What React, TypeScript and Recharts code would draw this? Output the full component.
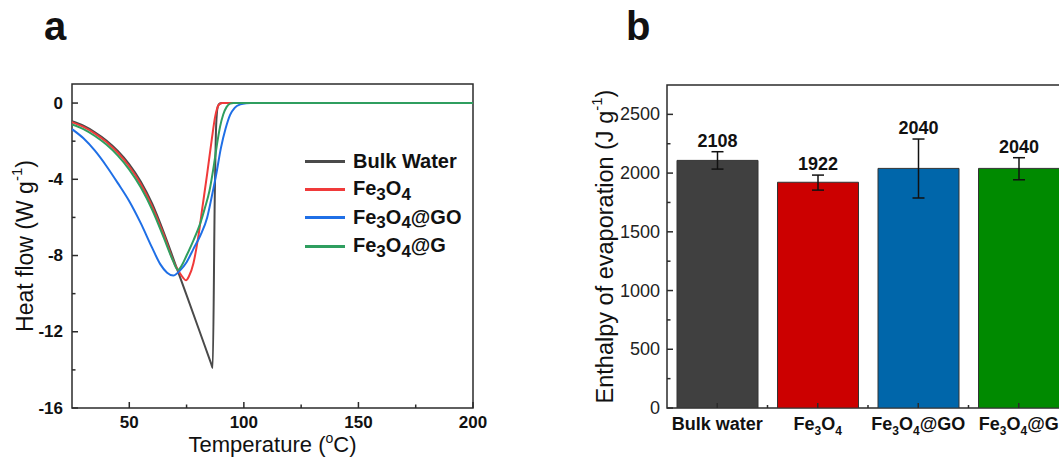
import React from 'react';
import {
  LineChart,
  Line,
  XAxis,
  YAxis,
  Legend,
  ReferenceArea,
  BarChart,
  Bar,
  Cell,
  ErrorBar,
  LabelList,
} from 'recharts';

const FONT = 'Arial, "Liberation Sans", Helvetica, sans-serif';
const INK = '#111';
const AXIS = '#2b2b2b';

// (a) DSC heat flow, temperature in °C and heat flow in W/g
const bulkTemp = [25, 30, 35, 40, 45, 50, 55, 60, 65, 70, 75, 80, 85.8, 86.4, 87.3, 87.9, 88.6, 89.5, 90.5, 200];
const bulkFlow = [-0.95, -1.19, -1.53, -1.96, -2.51, -3.21, -4.11, -5.28, -6.77, -8.42, -10.08, -11.75, -13.7, -13.9, -5.0, -1.2, -0.2, -0.02, 0, 0];

const ironTemp = [25, 30, 35, 40, 45, 50, 55, 60, 65, 70, 72.5, 74.8, 76, 78, 80, 82, 84, 86, 87.5, 89, 90.5, 200];
const ironFlow = [-1.0, -1.25, -1.6, -2.04, -2.61, -3.33, -4.25, -5.43, -6.9, -8.5, -9.0, -9.3, -9.1, -8.4, -7.1, -5.4, -3.7, -1.9, -0.7, -0.1, 0, 0];

const goTemp = [25, 30, 35, 40, 45, 50, 55, 60, 63.5, 66.5, 69.2, 72, 75, 78, 81, 84, 86, 88, 90, 92, 94, 96, 98.5, 101, 103, 200];
const goFlow = [-1.37, -1.85, -2.5, -3.3, -4.2, -5.15, -6.3, -7.6, -8.45, -8.9, -9.05, -8.8, -8.35, -7.65, -6.95, -6.0, -4.9, -3.7, -2.35, -1.35, -0.62, -0.25, -0.07, -0.01, 0, 0];

const gTemp = [25, 30, 35, 40, 45, 50, 55, 60, 65, 69, 71.2, 73, 75, 78, 81, 83, 85, 87, 88.5, 89.6, 91, 92.5, 94, 95.5, 200];
const gFlow = [-1.12, -1.37, -1.73, -2.18, -2.76, -3.49, -4.42, -5.6, -7.05, -8.25, -8.75, -8.5, -8.0, -7.2, -6.3, -5.5, -4.6, -3.2, -2.0, -1.25, -0.6, -0.2, -0.03, 0, 0];

const traceNames = ['Bulk Water', 'Fe3O4', 'Fe3O4@GO', 'Fe3O4@G'];
const traceColors = ['#4a4a4a', '#f03a3a', '#1f6fe6', '#2f9e5f'];

const tempTicks = [50, 75, 100, 125, 150, 175, 200];
const tempLabels = [50, 100, 150, 200];
const flowTicks = [-16, -14, -12, -10, -8, -6, -4, -2, 0];
const flowLabels = [-16, -12, -8, -4, 0];

// (b) enthalpy of evaporation, J/g
const sampleNames = ['Bulk water', 'Fe3O4', 'Fe3O4@GO', 'Fe3O4@G'];
const enthalpy = [2108, 1922, 2040, 2040];
const errLow = [74, 67, 252, 97];
const errHigh = [74, 61, 250, 91];
const barColors = ['#404040', '#cc0000', '#0066aa', '#008a00'];

const enthalpyTicks = [0, 250, 500, 750, 1000, 1250, 1500, 1750, 2000, 2250, 2500];
const enthalpyLabels = [0, 500, 1000, 1500, 2000, 2500];

const traces = [
  { temp: bulkTemp, flow: bulkFlow },
  { temp: ironTemp, flow: ironFlow },
  { temp: goTemp, flow: goFlow },
  { temp: gTemp, flow: gFlow },
].map((s, i) => ({
  name: traceNames[i],
  color: traceColors[i],
  rows: s.temp.map((t, j) => ({ t, hf: s.flow[j] })),
}));

const enthalpyRows = sampleNames.map((name, i) => ({
  name,
  value: enthalpy[i],
  err: [errLow[i], errHigh[i]],
}));

const BAR_W = 540;
const BAR_MARGIN = { top: 85, right: 11, bottom: 0, left: 37 };
const BAR_YAXIS_W = 90;
const band = (BAR_W - BAR_MARGIN.left - BAR_MARGIN.right - BAR_YAXIS_W) / sampleNames.length;

const splitFormula = (s: string) => s.split(/(\d+)/).filter(Boolean);
const isDigits = (s: string) => /^\d+$/.test(s);

// chemical formula inside svg text, digits dropped as subscripts
function svgFormula(text: string, subSize: number, drop: number) {
  let low = false;
  return splitFormula(text).map((part, i) => {
    const num = isDigits(part);
    const dy = num ? (low ? 0 : drop) : low ? -drop : 0;
    low = num;
    return (
      <tspan key={i} dy={dy} fontSize={num ? subSize : undefined}>
        {part}
      </tspan>
    );
  });
}

function HtmlFormula({ text }: { text: string }) {
  return (
    <>
      {splitFormula(text).map((part, i) =>
        isDigits(part) ? (
          <span key={i} style={{ fontSize: '0.85em', position: 'relative', top: '0.28em' }}>
            {part}
          </span>
        ) : (
          <span key={i}>{part}</span>
        ),
      )}
    </>
  );
}

const TempTick = (props: any) => {
  const { x, y, payload } = props;
  const major = tempLabels.includes(payload.value);
  return (
    <g>
      <line x1={x} x2={x} y1={y} y2={y - (major ? 6 : 3.5)} stroke={AXIS} strokeWidth={1.5} />
      {major && (
        <text x={x} y={y + 19.5} textAnchor="middle" fontSize={17} fontWeight="bold" fill={INK} fontFamily={FONT}>
          {payload.value}
        </text>
      )}
    </g>
  );
};

const FlowTick = (props: any) => {
  const { x, y, payload } = props;
  const major = flowLabels.includes(payload.value);
  return (
    <g>
      <line x1={x} x2={x + (major ? 6 : 3.5)} y1={y} y2={y} stroke={AXIS} strokeWidth={1.5} />
      {major && (
        <text x={x - 9} y={y} textAnchor="end" dominantBaseline="central" fontSize={17} fontWeight="bold" fill={INK} fontFamily={FONT}>
          {payload.value}
        </text>
      )}
    </g>
  );
};

const TempTitle = (props: any) => {
  const vb = props.viewBox;
  return (
    <text x={vb.x + vb.width / 2} y={vb.y + 44} textAnchor="middle" fontSize={22} fill={INK} fontFamily={FONT}>
      Temperature (<tspan dy={-9} fontSize={14}>o</tspan>
      <tspan dy={9}>C)</tspan>
    </text>
  );
};

const FlowTitle = (props: any) => {
  const vb = props.viewBox;
  const cx = vb.x + 13;
  const cy = vb.y + vb.height / 2;
  return (
    <text
      x={cx}
      y={cy}
      transform={`rotate(-90 ${cx} ${cy})`}
      textAnchor="middle"
      dominantBaseline="central"
      fontSize={23}
      fill={INK}
      fontFamily={FONT}
    >
      Heat flow (W g<tspan dy={-9} fontSize={15}>-1</tspan>
      <tspan dy={9}>)</tspan>
    </text>
  );
};

const TraceLegend = (props: any) => {
  const entries = [...(props.payload ?? [])].sort(
    (a: any, b: any) => traceNames.indexOf(a.value) - traceNames.indexOf(b.value),
  );
  return (
    <div style={{ fontFamily: FONT }}>
      {entries.map((entry: any) => (
        <div key={entry.value} style={{ display: 'flex', alignItems: 'center', height: 28.3 }}>
          <div style={{ width: 40, height: 3, background: entry.color, marginRight: 8 }} />
          <span style={{ fontSize: 20, fontWeight: 'bold', color: INK, lineHeight: '20px' }}>
            <HtmlFormula text={String(entry.value)} />
          </span>
        </div>
      ))}
    </div>
  );
};

const SampleTick = (props: any) => {
  const { x, y, payload, index } = props;
  const last = index === sampleNames.length - 1;
  return (
    <g>
      <line x1={x} x2={x} y1={y} y2={y - 5} stroke={AXIS} strokeWidth={1.5} />
      {!last && <line x1={x + band / 2} x2={x + band / 2} y1={y} y2={y - 3} stroke={AXIS} strokeWidth={1.5} />}
      <text x={x} y={y + 22} textAnchor="middle" fontSize={18} fontWeight="bold" fill={INK} fontFamily={FONT}>
        {svgFormula(String(payload.value), 12, 5)}
      </text>
    </g>
  );
};

const EnthalpyTick = (props: any) => {
  const { x, y, payload } = props;
  const major = enthalpyLabels.includes(payload.value);
  return (
    <g>
      <line x1={x} x2={x + (major ? 6 : 3.5)} y1={y} y2={y} stroke={AXIS} strokeWidth={1.5} />
      {major && (
        <text x={x - 7} y={y} textAnchor="end" dominantBaseline="central" fontSize={18} fill="#222" fontFamily={FONT}>
          {payload.value}
        </text>
      )}
    </g>
  );
};

const EnthalpyTitle = (props: any) => {
  const vb = props.viewBox;
  const cx = vb.x + 28;
  const cy = vb.y + vb.height / 2;
  return (
    <text
      x={cx}
      y={cy}
      transform={`rotate(-90 ${cx} ${cy})`}
      textAnchor="middle"
      dominantBaseline="central"
      fontSize={23.5}
      fill={INK}
      fontFamily={FONT}
    >
      Enthalpy of evaporation (J g<tspan dy={-9} fontSize={15}>-1</tspan>
      <tspan dy={9}>)</tspan>
    </text>
  );
};

// value printed just above the upper whisker
const ValueLabel = (props: any) => {
  const vb = props.viewBox ?? {};
  const x = props.x ?? vb.x;
  const y = props.y ?? vb.y;
  const width = props.width ?? vb.width;
  const height = props.height ?? vb.height;
  const value = Number(props.value);
  const idx = props.index ?? enthalpy.indexOf(value);
  const lift = ((errHigh[idx] ?? 0) * height) / value;
  return (
    <text x={x + width / 2} y={y - lift - 5} textAnchor="middle" fontSize={18} fontWeight="bold" fill={INK} fontFamily={FONT}>
      {value}
    </text>
  );
};

function HeatFlowChart() {
  return (
    <LineChart width={490} height={457} margin={{ top: 84, right: 17, bottom: 0, left: 12 }}>
      <ReferenceArea x1={25} x2={200} y1={-16} y2={1} fill="none" stroke={AXIS} strokeWidth={1.5} />
      <XAxis
        dataKey="t"
        type="number"
        domain={[25, 200]}
        ticks={tempTicks}
        interval={0}
        height={49}
        axisLine={false}
        tickLine={false}
        tickSize={0}
        tickMargin={0}
        tick={<TempTick />}
        label={<TempTitle />}
        allowDataOverflow
      />
      <YAxis
        type="number"
        domain={[-16, 1]}
        ticks={flowTicks}
        interval={0}
        width={60}
        axisLine={false}
        tickLine={false}
        tickSize={0}
        tickMargin={0}
        tick={<FlowTick />}
        label={<FlowTitle />}
        allowDataOverflow
      />
      {traces.map((tr) => (
        <Line
          key={tr.name}
          data={tr.rows}
          dataKey="hf"
          name={tr.name}
          type="monotone"
          stroke={tr.color}
          strokeWidth={2}
          dot={false}
          activeDot={false}
          isAnimationActive={false}
        />
      ))}
      <Legend
        layout="vertical"
        align="center"
        verticalAlign="middle"
        wrapperStyle={{ left: 305, top: 147, width: 'auto' }}
        content={<TraceLegend />}
      />
    </LineChart>
  );
}

function EnthalpyChart() {
  return (
    <BarChart width={BAR_W} height={457} data={enthalpyRows} margin={BAR_MARGIN} barSize={81}>
      <ReferenceArea y1={0} y2={2750} fill="none" stroke={AXIS} strokeWidth={1.5} />
      <XAxis
        dataKey="name"
        height={49}
        interval={0}
        axisLine={false}
        tickLine={false}
        tickSize={0}
        tickMargin={0}
        tick={<SampleTick />}
      />
      <YAxis
        type="number"
        domain={[0, 2750]}
        ticks={enthalpyTicks}
        interval={0}
        width={BAR_YAXIS_W}
        axisLine={false}
        tickLine={false}
        tickSize={0}
        tickMargin={0}
        tick={<EnthalpyTick />}
        label={<EnthalpyTitle />}
        allowDataOverflow
      />
      <Bar dataKey="value" stroke="#333" strokeWidth={1} isAnimationActive={false}>
        {enthalpyRows.map((r, i) => (
          <Cell key={r.name} fill={barColors[i]} />
        ))}
        <ErrorBar dataKey="err" width={6} strokeWidth={1.5} stroke={INK} />
        <LabelList dataKey="value" content={<ValueLabel />} />
      </Bar>
    </BarChart>
  );
}

export default function App() {
  return (
    <div
      style={{
        position: 'fixed',
        left: 0,
        top: 0,
        width: 1059,
        height: 457,
        overflow: 'hidden',
        background: '#fff',
        fontFamily: FONT,
      }}
    >
      <div style={{ position: 'absolute', left: 0, top: 0 }}>
        <HeatFlowChart />
      </div>
      <div style={{ position: 'absolute', left: 540, top: 0 }}>
        <EnthalpyChart />
      </div>
      <svg width={1059} height={60} style={{ position: 'absolute', left: 0, top: 0, pointerEvents: 'none' }}>
        <text x={44} y={40} fontSize={40} fontWeight="bold" fill={INK} fontFamily={FONT}>
          a
        </text>
        <text x={626} y={40} fontSize={40} fontWeight="bold" fill={INK} fontFamily={FONT}>
          b
        </text>
      </svg>
    </div>
  );
}
